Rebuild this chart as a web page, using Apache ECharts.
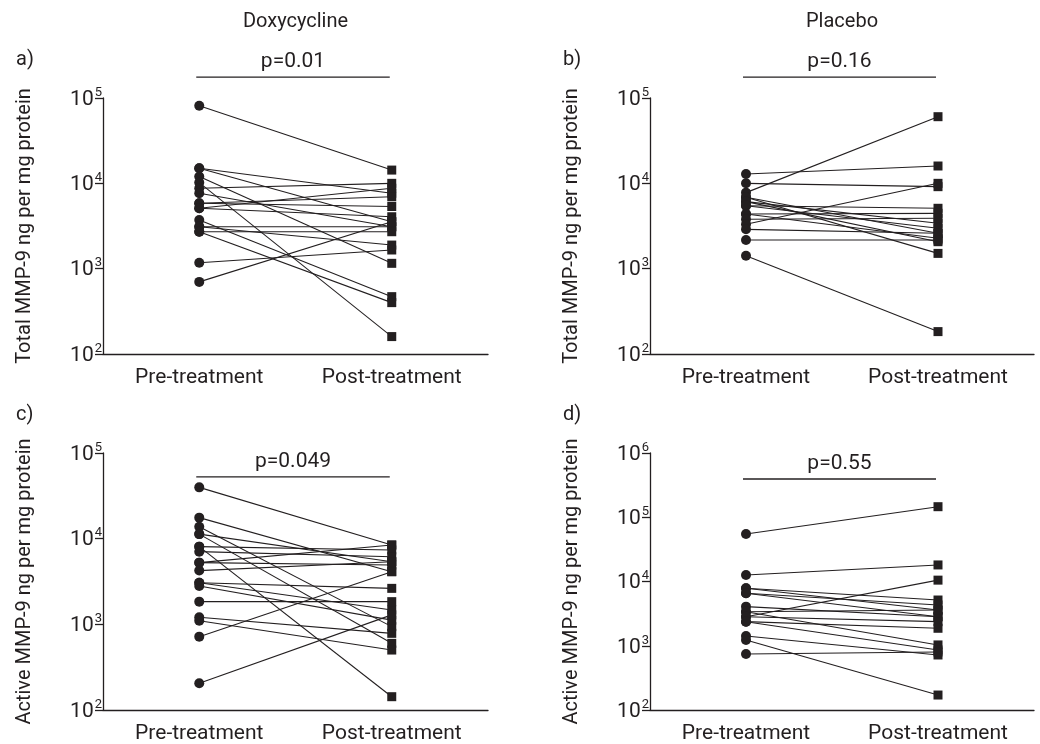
<!DOCTYPE html>
<html>
<head>
<meta charset="utf-8">
<script src="https://cdn.jsdelivr.net/npm/echarts@6/dist/echarts.min.js"></script>
<style>
html,body{margin:0;padding:0;background:#fff;}
#main{width:1040px;height:744px;}
</style>
</head>
<body>
<div id="main"></div>
<script>
// ---- data ----
const categories = ['Pre-treatment', 'Post-treatment'];
const columnTitles = ['Doxycycline', 'Placebo'];
const panelLetters = ['a)', 'b)', 'c)', 'd)'];
const yNames = ['Total MMP-9 ng per mg protein', 'Total MMP-9 ng per mg protein',
                'Active MMP-9 ng per mg protein', 'Active MMP-9 ng per mg protein'];
const pValues = ['p=0.01', 'p=0.16', 'p=0.049', 'p=0.55'];
const pLineLevels = [176000, 176000, 52500, 394000];
const yMins = [100, 100, 100, 100];
const yMaxs = [100000, 100000, 100000, 1000000];

// a) Doxycycline, total MMP-9
const aPre  = [81000, 15000, 15000, 12000, 10200, 8750, 7650, 5840, 5840, 5100, 5100, 3720, 3100, 3100, 2710, 2710, 1175, 700];
const aPost = [14300, 7650, 3550, 1155, 160, 10000, 3100, 6950, 5350, 4060, 8750, 470, 3100, 1890, 400, 2710, 1655, 3550];
// b) Placebo, total MMP-9
const bPre  = [12850, 10000, 7780, 6860, 6860, 6100, 6100, 5470, 5470, 4370, 4370, 3790, 3310, 2890, 2170, 1420];
const bPost = [15960, 9140, 60400, 1510, 2600, 3400, 2070, 5100, 2970, 4450, 2270, 3890, 10000, 2600, 2170, 183];
// c) Doxycycline, active MMP-9
const cPre  = [39700, 17600, 13800, 11300, 11300, 8070, 8070, 7050, 5250, 5250, 4240, 3060, 3060, 2800, 1840, 1210, 1100, 718, 205];
const cPost = [8430, 4120, 940, 600, 5380, 143, 7380, 6160, 4930, 8430, 5380, 2630, 1470, 1120, 1840, 785, 501, 4120, 1290];
// d) Placebo, active MMP-9
const dPre  = [54800, 12600, 7830, 7830, 6550, 6550, 4060, 3390, 3390, 2830, 2830, 2370, 2370, 1420, 1230, 745];
const dPost = [146000, 18100, 5150, 3600, 4310, 2830, 2830, 3600, 1030, 10500, 2370, 860, 1870, 718, 171, 800];

const preSets = [aPre, bPre, cPre, dPre];
const postSets = [aPost, bPost, cPost, dPost];

// ---- layout ----
const INK = '#231f20';
const FONT = 'Roboto';
const grids = [
  {left: 103, top: 98, width: 385, height: 256},
  {left: 650, top: 98, width: 384, height: 256},
  {left: 103, top: 453, width: 385, height: 257},
  {left: 650, top: 453, width: 384, height: 257}
];

const xAxes = grids.map((g, i) => ({
  type: 'category', gridIndex: i, data: categories, boundaryGap: true,
  axisLine: {lineStyle: {color: INK, width: 1.3}},
  axisTick: {alignWithLabel: true, length: 8, lineStyle: {color: INK, width: 1.3}},
  axisLabel: {color: INK, fontFamily: FONT, fontSize: 21, margin: 13}
}));

const yAxes = grids.map((g, i) => ({
  type: 'log', logBase: 10, gridIndex: i, min: yMins[i], max: yMaxs[i],
  name: yNames[i], nameLocation: 'middle', nameGap: 68, nameRotate: 90,
  nameTextStyle: {color: INK, fontFamily: FONT, fontSize: 20},
  axisLine: {show: true, lineStyle: {color: INK, width: 1.3}},
  axisTick: {show: true, length: 8, lineStyle: {color: INK, width: 1.3}},
  minorTick: {show: false},
  splitLine: {show: false},
  axisLabel: {
    margin: 1,
    formatter: v => '{b|10}{s|' + Math.round(Math.log10(v)) + '}',
    rich: {
      b: {fontSize: 21, lineHeight: 24, fontFamily: FONT, color: INK, verticalAlign: 'bottom'},
      s: {fontSize: 13, lineHeight: 24, fontFamily: FONT, color: INK, verticalAlign: 'top', padding: [0, 0, 0, 1]}
    }
  }
}));

const series = [];
preSets.forEach((pre, i) => {
  const post = postSets[i];
  pre.forEach((v, k) => {
    series.push({
      type: 'line', xAxisIndex: i, yAxisIndex: i,
      data: [
        {value: v, symbol: 'circle', symbolSize: 10},
        {value: post[k], symbol: 'rect', symbolSize: 9}
      ],
      showSymbol: true, showAllSymbol: true,
      lineStyle: {color: INK, width: 1.1},
      itemStyle: {color: INK, opacity: 1},
      emphasis: {disabled: true},
      animation: false, silent: true
    });
  });
});

const chart = echarts.init(document.getElementById('main'), null, {renderer: 'canvas'});
chart.setOption({
  backgroundColor: '#fff',
  animation: false,
  grid: grids,
  xAxis: xAxes,
  yAxis: yAxes,
  series: series
});

// annotations: titles, panel letters, p-value bars (placed via the chart's own scales)
const graphics = [];
const colCenters = [0, 1].map(i => {
  const a = chart.convertToPixel({xAxisIndex: i}, categories[0]);
  const b = chart.convertToPixel({xAxisIndex: i}, categories[1]);
  return (a + b) / 2;
});
columnTitles.forEach((t, i) => {
  graphics.push({type: 'text', x: colCenters[i], y: 22,
    style: {text: t, fill: INK, font: '20px ' + FONT, textAlign: 'center', textVerticalAlign: 'middle'}});
});
panelLetters.forEach((t, i) => {
  graphics.push({type: 'text', x: grids[i].left - 87, y: grids[i].top - 38,
    style: {text: t, fill: INK, font: '20px ' + FONT, textAlign: 'left', textVerticalAlign: 'middle'}});
});
pValues.forEach((t, i) => {
  const x1 = chart.convertToPixel({xAxisIndex: i}, categories[0]) - 3;
  const x2 = chart.convertToPixel({xAxisIndex: i}, categories[1]) - 2;
  const y = chart.convertToPixel({yAxisIndex: i}, pLineLevels[i]);
  graphics.push({type: 'line', shape: {x1: x1, y1: y, x2: x2, y2: y},
    style: {stroke: INK, lineWidth: 1.3}});
  graphics.push({type: 'text', x: (x1 + x2) / 2, y: y - 15,
    style: {text: t, fill: INK, font: '21px ' + FONT, textAlign: 'center', textVerticalAlign: 'middle'}});
});
chart.setOption({graphic: graphics});
</script>
</body>
</html>
